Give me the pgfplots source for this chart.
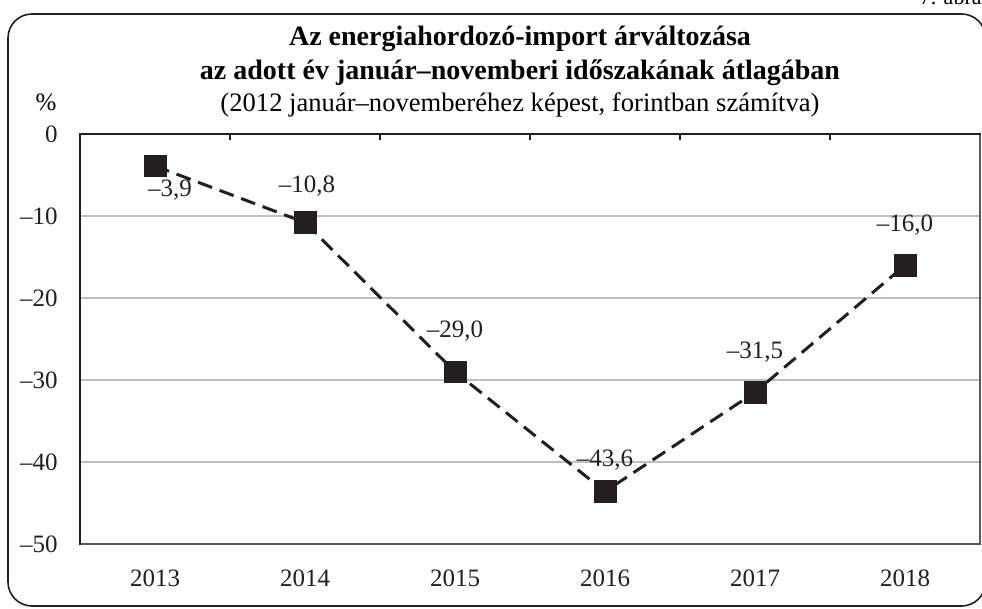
\documentclass[border=0pt]{standalone}
\usepackage{fontspec}
\setmainfont{Liberation Serif}
\usepackage{pgfplots}
\usepackage{pgfplotstable}
\pgfplotsset{compat=1.18}
\definecolor{ink}{HTML}{231F20}
\definecolor{gridc}{HTML}{BFBFBF}
\definecolor{framec}{HTML}{595959}

\pgfplotstableread{
x y
0 -3.9
1 -10.8
2 -29.0
3 -43.6
4 -31.5
5 -16.0
}\datatable

\begin{document}
\begin{tikzpicture}
\useasboundingbox (0pt,0pt) rectangle (491pt,-304.5pt);
\draw[line width=0.8pt, color=ink, rounded corners=12pt] (4pt,-7pt) rectangle (492.8pt,-303pt);
\node[anchor=base east, font=\fontsize{11}{13}\selectfont, inner sep=0pt] at (491pt,-2.5pt) {7. ábra};
\node[anchor=base, font=\fontsize{14}{16}\selectfont\bfseries, inner sep=0pt] at (260pt,-23pt) {Az energiahordozó-import árváltozása};
\node[anchor=base, font=\fontsize{14}{16}\selectfont\bfseries, inner sep=0pt] at (260pt,-40pt) {az adott év január–novemberi időszakának átlagában};
\node[anchor=base, font=\fontsize{13.3}{16}\selectfont, inner sep=0pt] at (260pt,-56pt) {(2012 január–novemberéhez képest, forintban számítva)};
\node[anchor=base, font=\fontsize{12.5}{15}\selectfont, inner sep=0pt] at (23pt,-55.5pt) {\%};
\begin{axis}[
  at={(40pt,-272pt)}, anchor=south west,
  scale only axis, width=450pt, height=205pt,
  xmin=-0.5, xmax=5.5, ymin=-50, ymax=0,
  xtick={0,...,5}, xticklabels={2013,2014,2015,2016,2017,2018},
  extra x ticks={0.5,1.5,2.5,3.5,4.5}, extra x tick labels={},
  extra x tick style={major tick length=3pt, tick style={ink, line width=0.6pt}},
  xtick pos=top, xticklabel pos=bottom, tick align=inside,
  major tick length=0pt,
  ytick={-50,-40,-30,-20,-10,0},
  yticklabels={–50,–40,–30,–20,–10,0},
  ytick pos=left,
  ymajorgrids, grid style={gridc, line width=0.75pt},
  axis line style={framec, line width=1pt},
  tick label style={font=\fontsize{12.5}{15}\selectfont, text=ink},
  yticklabel style={anchor=east, inner sep=0pt, xshift=-11pt},
  xticklabel style={anchor=north, inner sep=0pt, yshift=-12.5pt},
  clip=false,
  lbl/.style={draw=none, mark=none, nodes near coords, point meta=explicit symbolic,
     every node near coord/.style={anchor=center, inner sep=0pt,
     font=\fontsize{12.5}{15}\selectfont, text=ink, #1}},
]
\addplot[ink, line width=1.5pt, dash pattern=on 7.5pt off 4pt,
  mark=square*, mark size=5.4pt, mark options={solid, fill=ink, draw=ink, line width=0.3pt}]
  table[x=x, y=y]{\datatable};
\addplot[lbl={xshift=7.5pt, yshift=-12pt}] coordinates {(0,-3.9) [–3,9]};
\addplot[lbl={xshift=1pt, yshift=18pt}] coordinates {(1,-10.8) [–10,8]};
\addplot[lbl={yshift=20.2pt}] coordinates {(2,-29.0) [–29,0] (4,-31.5) [–31,5] (5,-16.0) [–16,0]};
\addplot[lbl={yshift=15.5pt}] coordinates {(3,-43.6) [–43,6]};
\draw[ink, line width=1pt, line cap=rect] (rel axis cs:0,0) -- (rel axis cs:0,1) -- (rel axis cs:1,1);
\end{axis}
\end{tikzpicture}
\end{document}
